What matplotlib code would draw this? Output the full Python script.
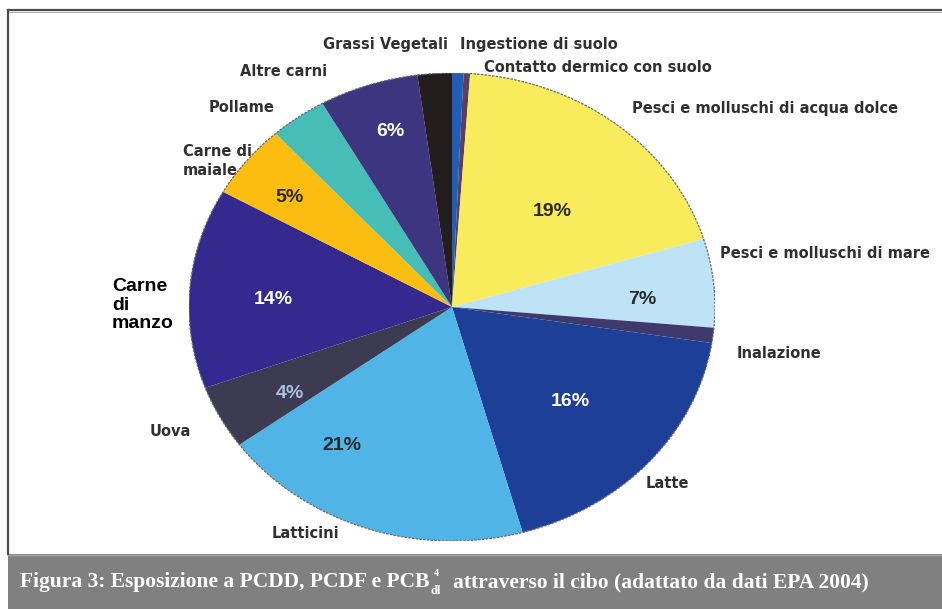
import matplotlib
matplotlib.use("Agg")
from matplotlib import pyplot as plt
from matplotlib.patches import Rectangle, Circle

W, H = 942, 609

# slices, clockwise from 12 o'clock
categories = ["Ingestione di suolo", "Contatto dermico con suolo",
              "Pesci e molluschi di acqua dolce", "Pesci e molluschi di mare",
              "Inalazione", "Latte", "Latticini", "Uova", "Carne di manzo",
              "Carne di maiale", "Pollame", "Altre carni", "Grassi Vegetali"]
values = [0.7, 0.4, 19.2, 6.1, 1.05, 18.2, 19.3, 4.4, 13.8, 5.1, 3.5, 6.1, 2.1]
pct_text = ["", "", "19%", "7%", "", "16%", "21%", "4%", "14%", "5%", "", "6%", ""]

colors = ["#1f5fb8", "#5b3f63", "#f9ec5c", "#bfe3f6", "#3f3a6c", "#1d3f98",
          "#50b4e6", "#3d3b52", "#35288e", "#fbbd10", "#47bdb8", "#3e3581", "#241d1e"]
pct_colors = {"19%": "#2a2a2a", "7%": "#2a2a2a", "16%": "white", "21%": "#2a2a2a",
              "4%": "#a9c0e2", "14%": "white", "5%": "#2a2a2a", "6%": "white"}

# label positions in pixels (left x, centre y)
label_pos = {
    "Grassi Vegetali": (323, 45),
    "Ingestione di suolo": (460, 45),
    "Contatto dermico con suolo": (484, 67),
    "Pesci e molluschi di acqua dolce": (632, 109),
    "Pesci e molluschi di mare": (720, 253),
    "Inalazione": (737, 354),
    "Latte": (646, 483),
    "Latticini": (272, 533),
    "Uova": (150, 432),
    "Carne di maiale": (183, 161),
    "Pollame": (209, 108),
    "Altre carni": (240, 72),
}
pct_pos = {"19%": (552, 211), "7%": (642, 300), "16%": (570, 402), "21%": (342, 445),
           "4%": (290, 393), "14%": (273, 300), "5%": (290, 198), "6%": (390, 132)}


def fx(x):
    return x / W


def fy(y):
    return 1 - y / H


fig = plt.figure(figsize=(W / 100, H / 100), dpi=100)
fig.patch.set_facecolor("white")

# frame and caption band
bg = fig.add_axes([0, 0, 1, 1], zorder=0)
bg.set_xlim(0, W)
bg.set_ylim(H, 0)
bg.axis("off")
bg.add_patch(Rectangle((8, 554), W, 60, facecolor="#808080", edgecolor="none"))
bg.plot([8, W], [555, 555], color="#a8a8a8", lw=1)
bg.plot([8, W], [10, 10], color="#4a4a4a", lw=1.6)
bg.plot([8, W], [11.5, 11.5], color="#b0b0b0", lw=0.8)
bg.plot([8, 8], [10, 554], color="#4a4a4a", lw=1.6)

label_font = dict(family="DejaVu Sans", weight="bold", size=10.5, color="#303030")
for name, (x, y) in label_pos.items():
    if name == "Carne di maiale":
        bg.text(x, y, "Carne di\nmaiale", ha="left", va="center", linespacing=1.35,
                **label_font)
    else:
        bg.text(x, y, name, ha="left", va="center", **label_font)
bg.text(112, 305, "Carne\ndi\nmanzo", ha="left", va="center", linespacing=1.15,
        family="Liberation Sans", weight="bold", size=14, color="black")

# pie (squashed into an ellipse like the original)
x0, x1, y0, y1 = 189, 715, 73, 541
ax = fig.add_axes([fx(x0), fy(y1), (x1 - x0) / W, (y1 - y0) / H], zorder=2)
ax.patch.set_alpha(0)
wedges, _ = ax.pie(values, colors=colors, startangle=90, counterclock=False,
                   wedgeprops=dict(linewidth=0))
ax.set_aspect("auto")
ax.set_xlim(-1, 1)
ax.set_ylim(-1, 1)
ax.axis("off")
ax.add_patch(Circle((0, 0), 1, facecolor="none", edgecolor="#6a6a6a", lw=0.9,
                    linestyle=(0, (2, 1))))

tx = fig.add_axes([0, 0, 1, 1], zorder=3)
tx.set_xlim(0, W)
tx.set_ylim(H, 0)
tx.axis("off")
tx.patch.set_alpha(0)
for t in pct_text:
    if t:
        x, y = pct_pos[t]
        tx.text(x, y, t, ha="center", va="center", family="Liberation Sans",
                weight="bold", size=14, color=pct_colors[t])

# caption with subscript / superscript
cap = dict(family="Liberation Serif", weight="bold", color="white")
renderer = fig.canvas.get_renderer()
figw = fig.dpi * fig.get_figwidth()
t1 = tx.text(20, 582, "Figura 3: Esposizione a PCDD, PCDF e PCB", ha="left",
             va="center", size=15.5, **cap)
xe = t1.get_window_extent(renderer).x1
t2 = fig.text(xe / figw + 0.001, fy(591), "dl", ha="left", va="center", size=9, **cap)
fig.text(xe / figw + 0.005, fy(574), "4", ha="left", va="center", size=7.5, **cap)
xe2 = t2.get_window_extent(renderer).x1
fig.text(xe2 / figw + 0.013, fy(582),
         "attraverso il cibo (adattato da dati EPA 2004)", ha="left", va="center",
         size=15.5, **cap)

fig.savefig("out.png", dpi=100)
